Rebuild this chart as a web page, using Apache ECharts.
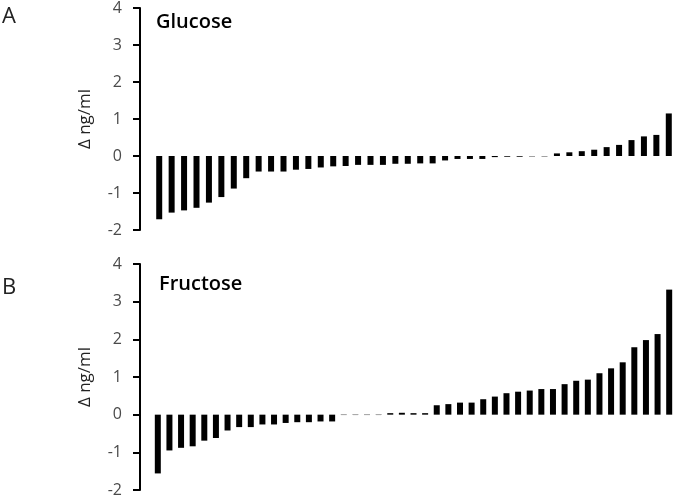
<!DOCTYPE html>
<html>
<head>
<meta charset="utf-8">
<script src="https://cdn.jsdelivr.net/npm/echarts@6/dist/echarts.min.js"></script>
<style>
  html, body { margin: 0; padding: 0; background: #fff; }
  #chart { width: 675px; height: 502px; }
</style>
</head>
<body>
<div id="chart"></div>
<script>
// sorted change per subject (ng/ml)
const glucose = [
  -1.71, -1.53, -1.47, -1.40, -1.26, -1.11, -0.88, -0.60, -0.42, -0.42,
  -0.42, -0.37, -0.35, -0.31, -0.28, -0.27, -0.24, -0.24, -0.24, -0.21,
  -0.21, -0.20, -0.20, -0.12, -0.08, -0.08, -0.08, -0.03, -0.02, -0.02,
  -0.01, -0.01, 0.07, 0.10, 0.13, 0.17, 0.24, 0.30, 0.43, 0.53,
  0.57, 1.15
];
const fructose = [
  -1.56, -0.95, -0.88, -0.84, -0.69, -0.62, -0.42, -0.33, -0.33, -0.26,
  -0.26, -0.22, -0.20, -0.20, -0.18, -0.18, -0.01, -0.01, -0.01, -0.01,
  0.04, 0.05, 0.04, 0.04, 0.25, 0.28, 0.32, 0.32, 0.41, 0.48,
  0.57, 0.61, 0.64, 0.68, 0.68, 0.81, 0.90, 0.93, 1.10, 1.23,
  1.39, 1.79, 1.98, 2.14, 3.32
];
const glucoseCats = glucose.map((v, i) => "G" + (i + 1));
const fructoseCats = fructose.map((v, i) => "F" + (i + 1));
const yTicks = { min: -2, max: 4, interval: 1 };
const panelLabels = ["A", "B"];
const panelTitles = ["Glucose", "Fructose"];
const yName = "\u0394 ng/ml";

const fontFam = "'Open Sans', sans-serif";

function yAxisFor(gridIndex, offset) {
  return {
    type: "value",
    gridIndex: gridIndex,
    min: yTicks.min,
    max: yTicks.max,
    interval: yTicks.interval,
    offset: offset,
    name: yName,
    nameLocation: "middle",
    nameGap: 46,
    nameRotate: 90,
    nameTextStyle: { color: "#222", fontSize: 17, fontFamily: fontFam },
    axisLine: { show: true, lineStyle: { color: "#000", width: 2 } },
    axisTick: { show: true, inside: false, length: 7, lineStyle: { color: "#000", width: 2 } },
    axisLabel: { color: "#4a4a4a", fontSize: 16, fontFamily: fontFam, margin: 18 },
    splitLine: { show: false }
  };
}

const chart = echarts.init(document.getElementById("chart"));
chart.setOption({
  animation: false,
  backgroundColor: "#fff",
  grid: [
    { left: 153, right: 0, top: 5, height: 225 },
    { left: 152, right: 0, top: 264, height: 226 }
  ],
  xAxis: [
    { type: "category", gridIndex: 0, data: glucoseCats, show: false },
    { type: "category", gridIndex: 1, data: fructoseCats, show: false }
  ],
  yAxis: [yAxisFor(0, 13), yAxisFor(1, 12)],
  series: [
    {
      type: "bar", xAxisIndex: 0, yAxisIndex: 0, data: glucose,
      barWidth: 6, itemStyle: { color: "#000" }
    },
    {
      type: "bar", xAxisIndex: 1, yAxisIndex: 1, data: fructose,
      barWidth: 6, itemStyle: { color: "#000" }
    }
  ],
  graphic: [
    { type: "text", left: 2, top: 6, style: { text: panelLabels[0], font: "22px " + fontFam, fill: "#222" } },
    { type: "text", left: 2, top: 277, style: { text: panelLabels[1], font: "22px " + fontFam, fill: "#222" } },
    { type: "text", left: 156, top: 12, style: { text: panelTitles[0], font: "600 20px " + fontFam, fill: "#000" } },
    { type: "text", left: 159, top: 274, style: { text: panelTitles[1], font: "600 20px " + fontFam, fill: "#000" } }
  ]
});
</script>
</body>
</html>
